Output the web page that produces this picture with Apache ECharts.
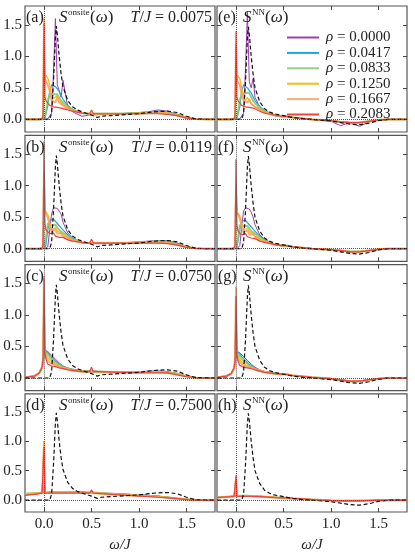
<!DOCTYPE html>
<html lang="en">
<head>
<meta charset="UTF-8">
<title>Spectral functions S(omega)</title>
<script src="https://cdn.jsdelivr.net/npm/echarts@6/dist/echarts.min.js"></script>
<style>
  html, body { margin: 0; padding: 0; background: #ffffff; }
  #chart { width: 415px; height: 554px; }
</style>
</head>
<body>
<div id="chart"></div>
<script>
// omega/J sample points shared by every coloured curve
var omega = [-0.2, -0.1, -0.05, -0.02, -0.01, 0, 0.01, 0.02, 0.04, 0.06, 0.08, 0.1, 0.12, 0.14, 0.16, 0.18, 0.2, 0.25, 0.3, 0.4, 0.48, 0.5, 0.52, 0.6, 0.8, 1.0, 1.1, 1.2, 1.3, 1.4, 1.5, 1.6, 1.8];

var rhoNames = ['0.0000', '0.0417', '0.0833', '0.1250', '0.1667', '0.2083'];
var temps = ['0.0075', '0.0119', '0.0750', '0.7500'];
var panelLetters = ['a', 'b', 'c', 'd', 'e', 'f', 'g', 'h'];
var tickValues = [0, 0.5, 1.0, 1.5];

// reference (dashed) curves
var dashX = [-0.2, 0, 0.06, 0.08, 0.1, 0.12, 0.13, 0.14, 0.16, 0.18, 0.2, 0.25, 0.3, 0.35, 0.4, 0.5, 0.56, 0.6, 0.7, 0.8, 1.0, 1.1, 1.2, 1.3, 1.4, 1.5, 1.6, 1.8];
var onsiteDash = [0, 0, 0, 0.1, 0.6, 1.3, 1.48, 1.35, 1.0, 0.72, 0.52, 0.3, 0.2, 0.15, 0.12, 0.07, 0.03, 0.05, 0.06, 0.07, 0.09, 0.11, 0.125, 0.13, 0.11, 0.05, 0.005, 0];
var nnDash = [0, 0, 0, 0.1, 0.6, 1.3, 1.47, 1.35, 1.0, 0.72, 0.5, 0.28, 0.17, 0.12, 0.09, 0.06, 0.04, 0.03, 0.01, 0, -0.025, -0.05, -0.075, -0.085, -0.06, -0.02, 0, 0];

// (a) onsite, T/J = 0.0075
var aPurple = [0, 0, 0, 0, 0, 0, 0, 0, 0.01, 0.02, 0.1, 0.75, 1.6, 0.55, 0.45, 0.35, 0.62, 0.2, 0.12, 0.05, 0.07, 0.08, 0.07, 0.08, 0.09, 0.11, 0.12, 0.15, 0.13, 0.08, 0.03, 0.005, 0];
var aBlue = [0, 0, 0, 0, 0, 0.01, 0.02, 0.05, 0.22, 0.45, 0.55, 0.56, 0.52, 0.5, 0.45, 0.38, 0.32, 0.22, 0.16, 0.1, 0.09, 0.09, 0.09, 0.09, 0.09, 0.1, 0.11, 0.13, 0.12, 0.08, 0.03, 0.005, 0];
var aGreen = [0, 0, 0, 0, 0.01, 0.02, 0.05, 0.12, 0.3, 0.4, 0.42, 0.4, 0.37, 0.4, 0.34, 0.3, 0.27, 0.2, 0.15, 0.1, 0.09, 0.09, 0.09, 0.09, 0.09, 0.1, 0.11, 0.12, 0.11, 0.07, 0.03, 0.005, 0];
var aYellow = [0, 0, 0, 0.01, 0.05, 0.3, 0.6, 0.7, 0.66, 0.55, 0.38, 0.33, 0.3, 0.38, 0.3, 0.27, 0.24, 0.18, 0.14, 0.1, 0.09, 0.1, 0.09, 0.09, 0.09, 0.1, 0.1, 0.11, 0.1, 0.07, 0.03, 0.005, 0];
var aOrange = [0, 0, 0, 0.01, 0.05, 1.6, 0.65, 0.6, 0.55, 0.45, 0.3, 0.3, 0.27, 0.35, 0.27, 0.24, 0.22, 0.17, 0.14, 0.1, 0.09, 0.12, 0.09, 0.09, 0.09, 0.09, 0.1, 0.1, 0.09, 0.06, 0.025, 0.005, 0];
var aRed = [0, 0, 0, 0.01, 0.05, 1.52, 0.35, 0.3, 0.28, 0.22, 0.25, 0.2, 0.23, 0.19, 0.22, 0.18, 0.2, 0.15, 0.13, 0.1, 0.09, 0.15, 0.09, 0.09, 0.09, 0.09, 0.09, 0.09, 0.08, 0.06, 0.02, 0.005, 0];

// (b) onsite, T/J = 0.0119
var bPurple = [0, 0, 0, 0, 0, 0, 0, 0, 0.03, 0.3, 0.55, 0.65, 0.66, 0.64, 0.62, 0.55, 0.42, 0.25, 0.17, 0.09, 0.08, 0.08, 0.08, 0.08, 0.09, 0.11, 0.12, 0.13, 0.13, 0.09, 0.03, 0.005, 0];
var bBlue = [0, 0, 0, 0, 0, 0.01, 0.02, 0.06, 0.3, 0.45, 0.48, 0.47, 0.44, 0.4, 0.37, 0.33, 0.3, 0.22, 0.16, 0.1, 0.09, 0.09, 0.09, 0.09, 0.09, 0.1, 0.11, 0.12, 0.12, 0.08, 0.03, 0.005, 0];
var bGreen = [0, 0, 0, 0, 0.01, 0.03, 0.08, 0.16, 0.4, 0.42, 0.37, 0.35, 0.38, 0.33, 0.3, 0.27, 0.25, 0.2, 0.15, 0.1, 0.09, 0.09, 0.09, 0.09, 0.09, 0.1, 0.11, 0.12, 0.11, 0.07, 0.03, 0.005, 0];
var bYellow = [0, 0, 0, 0.01, 0.06, 0.5, 0.6, 0.62, 0.55, 0.42, 0.3, 0.3, 0.33, 0.28, 0.25, 0.25, 0.22, 0.18, 0.14, 0.1, 0.09, 0.1, 0.09, 0.09, 0.09, 0.1, 0.1, 0.11, 0.1, 0.07, 0.03, 0.005, 0];
var bOrange = [0, 0, 0, 0.01, 0.06, 1.2, 0.6, 0.55, 0.5, 0.35, 0.28, 0.28, 0.3, 0.24, 0.22, 0.24, 0.2, 0.16, 0.13, 0.1, 0.09, 0.12, 0.09, 0.09, 0.09, 0.09, 0.1, 0.1, 0.09, 0.06, 0.025, 0.005, 0];
var bRed = [0, 0, 0, 0.01, 0.06, 1.7, 0.4, 0.3, 0.32, 0.24, 0.22, 0.25, 0.2, 0.22, 0.18, 0.2, 0.18, 0.14, 0.12, 0.1, 0.09, 0.15, 0.09, 0.09, 0.09, 0.09, 0.09, 0.09, 0.08, 0.06, 0.02, 0.005, 0];

// (c) onsite, T/J = 0.0750
var cPurple = [0.01, 0.03, 0.08, 0.16, 0.25, 0.38, 0.44, 0.45, 0.42, 0.39, 0.36, 0.33, 0.3, 0.27, 0.24, 0.21, 0.19, 0.16, 0.14, 0.12, 0.11, 0.11, 0.11, 0.1, 0.1, 0.1, 0.11, 0.11, 0.1, 0.07, 0.03, 0.005, 0];
var cBlue = [0.01, 0.03, 0.08, 0.16, 0.26, 0.4, 0.46, 0.45, 0.4, 0.37, 0.33, 0.3, 0.27, 0.25, 0.22, 0.2, 0.18, 0.15, 0.13, 0.11, 0.11, 0.11, 0.11, 0.1, 0.1, 0.1, 0.1, 0.11, 0.1, 0.07, 0.03, 0.005, 0];
var cGreen = [0.01, 0.03, 0.08, 0.17, 0.27, 0.45, 0.48, 0.42, 0.37, 0.33, 0.3, 0.27, 0.25, 0.22, 0.2, 0.19, 0.17, 0.15, 0.13, 0.11, 0.1, 0.1, 0.1, 0.1, 0.09, 0.09, 0.1, 0.1, 0.09, 0.07, 0.03, 0.005, 0];
var cYellow = [0.01, 0.03, 0.08, 0.17, 0.3, 1.3, 0.45, 0.38, 0.32, 0.29, 0.27, 0.25, 0.22, 0.2, 0.19, 0.18, 0.16, 0.14, 0.12, 0.11, 0.1, 0.11, 0.1, 0.1, 0.09, 0.09, 0.09, 0.1, 0.09, 0.06, 0.03, 0.005, 0];
var cOrange = [0.01, 0.03, 0.08, 0.17, 0.3, 1.62, 0.42, 0.33, 0.27, 0.25, 0.23, 0.22, 0.2, 0.19, 0.18, 0.17, 0.16, 0.14, 0.12, 0.1, 0.1, 0.13, 0.1, 0.1, 0.09, 0.09, 0.09, 0.09, 0.08, 0.06, 0.025, 0.005, 0];
var cRed = [0.01, 0.03, 0.08, 0.17, 0.3, 1.58, 0.4, 0.3, 0.22, 0.2, 0.19, 0.19, 0.18, 0.17, 0.16, 0.16, 0.15, 0.13, 0.12, 0.1, 0.1, 0.17, 0.1, 0.1, 0.09, 0.08, 0.08, 0.08, 0.08, 0.05, 0.02, 0.005, 0];

// (d) onsite, T/J = 0.7500
var dPurple = [0.09, 0.1, 0.11, 0.12, 0.12, 0.14, 0.13, 0.13, 0.13, 0.13, 0.14, 0.14, 0.14, 0.14, 0.14, 0.14, 0.14, 0.14, 0.14, 0.14, 0.13, 0.13, 0.13, 0.12, 0.11, 0.09, 0.08, 0.07, 0.05, 0.03, 0.015, 0.005, 0];
var dBlue = [0.1, 0.11, 0.12, 0.12, 0.13, 0.2, 0.13, 0.13, 0.13, 0.13, 0.14, 0.14, 0.14, 0.14, 0.14, 0.14, 0.14, 0.14, 0.14, 0.14, 0.13, 0.13, 0.13, 0.12, 0.1, 0.09, 0.08, 0.07, 0.05, 0.03, 0.015, 0.005, 0];
var dGreen = [0.11, 0.12, 0.12, 0.13, 0.13, 0.35, 0.13, 0.13, 0.13, 0.13, 0.14, 0.14, 0.14, 0.14, 0.14, 0.14, 0.14, 0.14, 0.14, 0.13, 0.13, 0.13, 0.13, 0.12, 0.1, 0.08, 0.07, 0.06, 0.05, 0.03, 0.015, 0.005, 0];
var dYellow = [0.11, 0.12, 0.12, 0.13, 0.13, 0.95, 0.13, 0.13, 0.13, 0.13, 0.13, 0.13, 0.14, 0.14, 0.14, 0.14, 0.14, 0.14, 0.13, 0.13, 0.13, 0.14, 0.13, 0.12, 0.1, 0.08, 0.07, 0.06, 0.05, 0.03, 0.015, 0.005, 0];
var dOrange = [0.1, 0.11, 0.12, 0.12, 0.13, 1.0, 0.13, 0.13, 0.13, 0.13, 0.13, 0.13, 0.13, 0.13, 0.13, 0.13, 0.13, 0.13, 0.13, 0.13, 0.12, 0.14, 0.12, 0.11, 0.09, 0.08, 0.07, 0.06, 0.04, 0.03, 0.015, 0.005, 0];
var dRed = [0.08, 0.1, 0.11, 0.12, 0.12, 0.9, 0.12, 0.12, 0.12, 0.12, 0.12, 0.12, 0.12, 0.12, 0.12, 0.12, 0.12, 0.12, 0.12, 0.12, 0.12, 0.17, 0.12, 0.11, 0.09, 0.07, 0.06, 0.05, 0.04, 0.025, 0.01, 0.005, 0];

// (e) nearest neighbour, T/J = 0.0075
var ePurple = [0, 0, 0, 0, 0, 0, 0, 0, 0.01, 0.02, 0.1, 0.8, 1.7, 0.6, 0.5, 0.65, 0.35, 0.2, 0.12, 0.06, 0.04, 0.04, 0.04, 0.03, 0, -0.03, -0.1, -0.05, -0.11, -0.04, -0.01, 0, 0];
var eBlue = [0, 0, 0, 0, 0, 0.01, 0.02, 0.05, 0.2, 0.45, 0.55, 0.55, 0.5, 0.48, 0.42, 0.36, 0.3, 0.2, 0.14, 0.07, 0.05, 0.05, 0.05, 0.03, 0, -0.02, -0.04, -0.05, -0.05, -0.03, -0.01, 0, 0];
var eGreen = [0, 0, 0, 0, 0.01, 0.02, 0.05, 0.12, 0.3, 0.4, 0.43, 0.42, 0.4, 0.42, 0.35, 0.3, 0.26, 0.18, 0.13, 0.07, 0.05, 0.05, 0.05, 0.03, 0, -0.02, -0.04, -0.05, -0.05, -0.03, -0.01, 0, 0];
var eYellow = [0, 0, 0, 0.01, 0.05, 0.4, 0.6, 0.7, 0.65, 0.5, 0.35, 0.3, 0.35, 0.3, 0.25, 0.23, 0.2, 0.16, 0.12, 0.07, 0.05, 0.05, 0.05, 0.03, 0, -0.02, -0.04, -0.05, -0.05, -0.03, -0.01, 0, 0];
var eOrange = [0, 0, 0, 0.01, 0.05, 1.2, 0.62, 0.6, 0.55, 0.4, 0.3, 0.32, 0.27, 0.32, 0.25, 0.22, 0.2, 0.15, 0.11, 0.07, 0.05, 0.05, 0.05, 0.03, 0, -0.02, -0.04, -0.06, -0.05, -0.03, -0.01, 0, 0];
var eRed = [0, 0, 0, 0.01, 0.05, 1.4, 0.35, 0.3, 0.27, 0.22, 0.24, 0.2, 0.22, 0.19, 0.2, 0.18, 0.17, 0.13, 0.1, 0.07, 0.05, 0.06, 0.05, 0.03, 0, -0.02, -0.04, -0.05, -0.05, -0.03, -0.01, 0, 0];

// (f) nearest neighbour, T/J = 0.0119
var fPurple = [0, 0, 0, 0, 0, 0, 0, 0, 0.05, 0.35, 0.6, 0.65, 0.66, 0.63, 0.58, 0.5, 0.38, 0.22, 0.15, 0.07, 0.05, 0.05, 0.05, 0.03, 0, -0.015, -0.03, -0.045, -0.045, -0.03, -0.01, 0, 0];
var fBlue = [0, 0, 0, 0, 0, 0.01, 0.02, 0.05, 0.3, 0.44, 0.47, 0.45, 0.42, 0.38, 0.35, 0.31, 0.28, 0.2, 0.14, 0.07, 0.05, 0.05, 0.05, 0.03, 0, -0.015, -0.03, -0.045, -0.045, -0.03, -0.01, 0, 0];
var fGreen = [0, 0, 0, 0, 0.01, 0.03, 0.08, 0.15, 0.38, 0.4, 0.36, 0.34, 0.36, 0.32, 0.28, 0.26, 0.24, 0.18, 0.13, 0.07, 0.05, 0.05, 0.05, 0.03, 0, -0.015, -0.03, -0.045, -0.045, -0.03, -0.01, 0, 0];
var fYellow = [0, 0, 0, 0.01, 0.06, 0.5, 0.58, 0.6, 0.52, 0.4, 0.3, 0.28, 0.32, 0.27, 0.24, 0.24, 0.2, 0.16, 0.12, 0.07, 0.05, 0.05, 0.05, 0.03, 0, -0.015, -0.03, -0.05, -0.05, -0.03, -0.01, 0, 0];
var fOrange = [0, 0, 0, 0.01, 0.06, 1.0, 0.58, 0.55, 0.48, 0.33, 0.26, 0.27, 0.29, 0.23, 0.21, 0.23, 0.19, 0.14, 0.11, 0.07, 0.05, 0.05, 0.05, 0.03, 0, -0.015, -0.03, -0.05, -0.05, -0.03, -0.01, 0, 0];
var fRed = [0, 0, 0, 0.01, 0.06, 1.42, 0.38, 0.28, 0.3, 0.22, 0.2, 0.24, 0.19, 0.21, 0.17, 0.19, 0.16, 0.12, 0.1, 0.07, 0.05, 0.06, 0.05, 0.03, 0, -0.015, -0.03, -0.05, -0.05, -0.03, -0.01, 0, 0];

// (g) nearest neighbour, T/J = 0.0750
var gPurple = [0.01, 0.03, 0.07, 0.15, 0.24, 0.35, 0.42, 0.42, 0.4, 0.37, 0.34, 0.31, 0.28, 0.25, 0.22, 0.19, 0.17, 0.13, 0.1, 0.08, 0.06, 0.06, 0.06, 0.04, 0.01, -0.01, -0.03, -0.05, -0.05, -0.03, -0.01, 0, 0];
var gBlue = [0.01, 0.03, 0.07, 0.15, 0.25, 0.38, 0.43, 0.42, 0.38, 0.34, 0.31, 0.28, 0.25, 0.22, 0.2, 0.18, 0.16, 0.12, 0.1, 0.08, 0.06, 0.06, 0.06, 0.04, 0.01, -0.01, -0.03, -0.05, -0.05, -0.03, -0.01, 0, 0];
var gGreen = [0.01, 0.03, 0.07, 0.15, 0.26, 0.42, 0.44, 0.4, 0.34, 0.3, 0.27, 0.25, 0.22, 0.2, 0.18, 0.16, 0.15, 0.12, 0.1, 0.07, 0.06, 0.06, 0.06, 0.04, 0.01, -0.01, -0.03, -0.05, -0.05, -0.03, -0.01, 0, 0];
var gYellow = [0.01, 0.03, 0.07, 0.16, 0.28, 1.2, 0.42, 0.35, 0.29, 0.26, 0.23, 0.21, 0.19, 0.18, 0.17, 0.15, 0.14, 0.12, 0.1, 0.07, 0.06, 0.06, 0.06, 0.04, 0.01, -0.01, -0.03, -0.05, -0.05, -0.03, -0.01, 0, 0];
var gOrange = [0.01, 0.03, 0.07, 0.16, 0.28, 1.45, 0.4, 0.3, 0.25, 0.22, 0.2, 0.19, 0.18, 0.17, 0.16, 0.15, 0.14, 0.11, 0.09, 0.07, 0.06, 0.07, 0.06, 0.04, 0.01, -0.01, -0.03, -0.05, -0.05, -0.03, -0.01, 0, 0];
var gRed = [0.01, 0.03, 0.07, 0.16, 0.28, 1.3, 0.38, 0.27, 0.2, 0.18, 0.17, 0.17, 0.16, 0.15, 0.15, 0.14, 0.13, 0.11, 0.09, 0.07, 0.06, 0.07, 0.06, 0.04, 0.01, -0.01, -0.03, -0.05, -0.05, -0.03, -0.01, 0, 0];

// (h) nearest neighbour, T/J = 0.7500
var hPurple = [0.05, 0.06, 0.065, 0.07, 0.07, 0.08, 0.075, 0.075, 0.075, 0.075, 0.075, 0.075, 0.075, 0.075, 0.075, 0.07, 0.07, 0.065, 0.06, 0.05, 0.04, 0.04, 0.04, 0.03, 0.01, -0.005, -0.01, -0.01, -0.01, -0.005, 0, 0, 0];
var hBlue = [0.05, 0.06, 0.065, 0.07, 0.07, 0.1, 0.075, 0.075, 0.075, 0.075, 0.075, 0.075, 0.075, 0.075, 0.075, 0.07, 0.07, 0.065, 0.06, 0.05, 0.04, 0.04, 0.04, 0.03, 0.01, -0.005, -0.01, -0.01, -0.01, -0.005, 0, 0, 0];
var hGreen = [0.05, 0.06, 0.065, 0.07, 0.07, 0.15, 0.075, 0.075, 0.075, 0.075, 0.075, 0.075, 0.075, 0.075, 0.07, 0.07, 0.07, 0.065, 0.06, 0.05, 0.04, 0.04, 0.04, 0.03, 0.01, -0.005, -0.01, -0.01, -0.01, -0.005, 0, 0, 0];
var hYellow = [0.05, 0.06, 0.065, 0.07, 0.07, 0.3, 0.075, 0.075, 0.075, 0.075, 0.075, 0.075, 0.075, 0.07, 0.07, 0.07, 0.07, 0.065, 0.06, 0.05, 0.04, 0.045, 0.04, 0.03, 0.01, -0.005, -0.01, -0.01, -0.01, -0.005, 0, 0, 0];
var hOrange = [0.045, 0.055, 0.06, 0.065, 0.07, 0.35, 0.07, 0.07, 0.07, 0.07, 0.07, 0.07, 0.07, 0.07, 0.07, 0.07, 0.065, 0.06, 0.055, 0.045, 0.04, 0.05, 0.04, 0.03, 0.01, -0.005, -0.01, -0.01, -0.01, -0.005, 0, 0, 0];
var hRed = [0.045, 0.055, 0.06, 0.065, 0.065, 0.42, 0.065, 0.065, 0.065, 0.065, 0.065, 0.065, 0.065, 0.065, 0.065, 0.065, 0.06, 0.06, 0.055, 0.045, 0.04, 0.06, 0.04, 0.03, 0.01, -0.005, -0.01, -0.01, -0.01, -0.005, 0, 0, 0];

var panelCurves = [
  [aPurple, aBlue, aGreen, aYellow, aOrange, aRed],
  [bPurple, bBlue, bGreen, bYellow, bOrange, bRed],
  [cPurple, cBlue, cGreen, cYellow, cOrange, cRed],
  [dPurple, dBlue, dGreen, dYellow, dOrange, dRed],
  [ePurple, eBlue, eGreen, eYellow, eOrange, eRed],
  [fPurple, fBlue, fGreen, fYellow, fOrange, fRed],
  [gPurple, gBlue, gGreen, gYellow, gOrange, gRed],
  [hPurple, hBlue, hGreen, hYellow, hOrange, hRed]
];

var colors = ['#9b3fb0', '#1fa3df', '#80c96a', '#f6bb12', '#f8a055', '#ec4242'];
var widths = [1, 1.2, 2, 1.2, 2, 1.2];
var serif = "'Liberation Serif', 'DejaVu Serif', serif";

var chart = echarts.init(document.getElementById('chart'));

var rowTops = [6, 135.3, 264.6, 393.9];
var colLefts = [25, 217];
var grids = [], xAxes = [], yAxes = [], series = [], graphics = [];

function pairs(xs, ys) {
  return xs.map(function (x, i) { return [x, ys[i]]; });
}

function ticks() {
  return { show: true, inside: true, length: 4, customValues: tickValues, lineStyle: { color: '#444', width: 1 } };
}

function noLine() {
  return { show: false, onZero: false };
}

function fmt(v) {
  return v.toFixed(1);
}

for (var k = 0; k < 8; k++) {
  var col = k < 4 ? 0 : 1;
  var row = k % 4;
  var pTop = rowTops[row];
  var pLeft = colLefts[col];
  grids.push({ left: pLeft, top: pTop, width: 190, height: 126, show: true,
    borderColor: '#555', borderWidth: 1.2 });

  var bottomRow = row === 3;
  xAxes.push({
    gridIndex: k, type: 'value', min: -0.2, max: 1.8, position: 'bottom',
    axisLine: noLine(), splitLine: { show: false }, axisTick: ticks(),
    axisLabel: { show: bottomRow, customValues: tickValues, margin: 5, formatter: fmt,
      fontFamily: serif, fontSize: 15, color: '#222' },
    name: bottomRow ? 'ω/J' : '', nameLocation: 'middle', nameGap: 26,
    nameTextStyle: { fontFamily: serif, fontSize: 15, fontStyle: 'italic', color: '#222' }
  });
  xAxes.push({
    gridIndex: k, type: 'value', min: -0.2, max: 1.8, position: 'top',
    axisLine: noLine(), splitLine: { show: false }, axisTick: ticks(),
    axisLabel: { show: false }
  });
  yAxes.push({
    gridIndex: k, type: 'value', min: -0.2, max: 1.8, position: 'left',
    axisLine: noLine(), splitLine: { show: false }, axisTick: ticks(),
    axisLabel: { show: col === 0, customValues: tickValues, margin: 3, formatter: fmt,
      fontFamily: serif, fontSize: 15, color: '#222' }
  });
  yAxes.push({
    gridIndex: k, type: 'value', min: -0.2, max: 1.8, position: 'right',
    axisLine: noLine(), splitLine: { show: false }, axisTick: ticks(),
    axisLabel: { show: false }
  });

  for (var j = 0; j < 6; j++) {
    var s = {
      name: rhoNames[j], type: 'line', xAxisIndex: 2 * k, yAxisIndex: 2 * k,
      data: pairs(omega, panelCurves[k][j]), symbol: 'none',
      lineStyle: { color: colors[j], width: widths[j], opacity: (j === 2 || j === 4) ? 0.85 : 1 },
      itemStyle: { color: colors[j] }, z: 3
    };
    if (j === 0) {
      s.markLine = { silent: true, symbol: ['none', 'none'], label: { show: false },
        lineStyle: { type: 'dotted', color: '#555', width: 1 },
        data: [{ xAxis: 0 }, { yAxis: 0 }] };
    }
    series.push(s);
  }
  series.push({
    name: 'ref', type: 'line', xAxisIndex: 2 * k, yAxisIndex: 2 * k,
    data: pairs(dashX, col === 0 ? onsiteDash : nnDash), symbol: 'none',
    lineStyle: { color: '#111', width: 1.2, type: [4, 2.5] }, z: 4
  });

  // panel annotations
  var cy = pTop + 12;
  graphics.push({ type: 'text', x: pLeft + 1, y: cy, z: 10,
    style: { text: '(' + panelLetters[k] + ')', font: '16px ' + serif, fill: '#222', verticalAlign: 'middle' } });
  var sx = col === 0 ? 59 : 243;
  var sup = col === 0 ? 'onsite' : 'NN';
  var paren = col === 0 ? 90 : 265;
  graphics.push({ type: 'text', x: sx, y: cy, z: 10,
    style: { text: 'S', font: 'italic 17px ' + serif, fill: '#222', verticalAlign: 'middle' } });
  graphics.push({ type: 'text', x: sx + 9, y: cy - 5, z: 10,
    style: { text: sup, font: '9px ' + serif, fill: '#222', verticalAlign: 'middle' } });
  graphics.push({ type: 'text', x: paren, y: cy, z: 10,
    style: { text: '{n|(}{i|ω}{n|)}', fill: '#222', verticalAlign: 'middle',
      rich: { n: { font: '17px ' + serif, fill: '#222' }, i: { font: 'italic 17px ' + serif, fill: '#222' } } } });
  if (col === 0) {
    graphics.push({ type: 'text', x: 212, y: cy, z: 10,
      style: { text: '{i|T}{n|/}{i|J}{n| = ' + temps[row] + '}', fill: '#222', align: 'right', verticalAlign: 'middle',
        rich: { n: { font: '16px ' + serif, fill: '#222' }, i: { font: 'italic 16px ' + serif, fill: '#222' } } } });
  }
}

chart.setOption({
  animation: false,
  backgroundColor: '#ffffff',
  grid: grids,
  xAxis: xAxes,
  yAxis: yAxes,
  legend: {
    data: rhoNames, orient: 'vertical', left: 281, top: 25,
    itemWidth: 32, itemHeight: 10, itemGap: 0.4,
    itemStyle: { opacity: 0 },
    textStyle: { fontFamily: serif, fontSize: 15, color: '#222', lineHeight: 14, padding: [0, 0, 0, 2],
      rich: { i: { fontFamily: serif, fontSize: 15, fontStyle: 'italic', color: '#222', lineHeight: 14 },
              n: { fontFamily: serif, fontSize: 15, color: '#222', lineHeight: 14 } } },
    formatter: function (n) { return '{i|ρ}{n| = ' + n + '}'; }
  },
  graphic: graphics,
  series: series
});
</script>
</body>
</html>
